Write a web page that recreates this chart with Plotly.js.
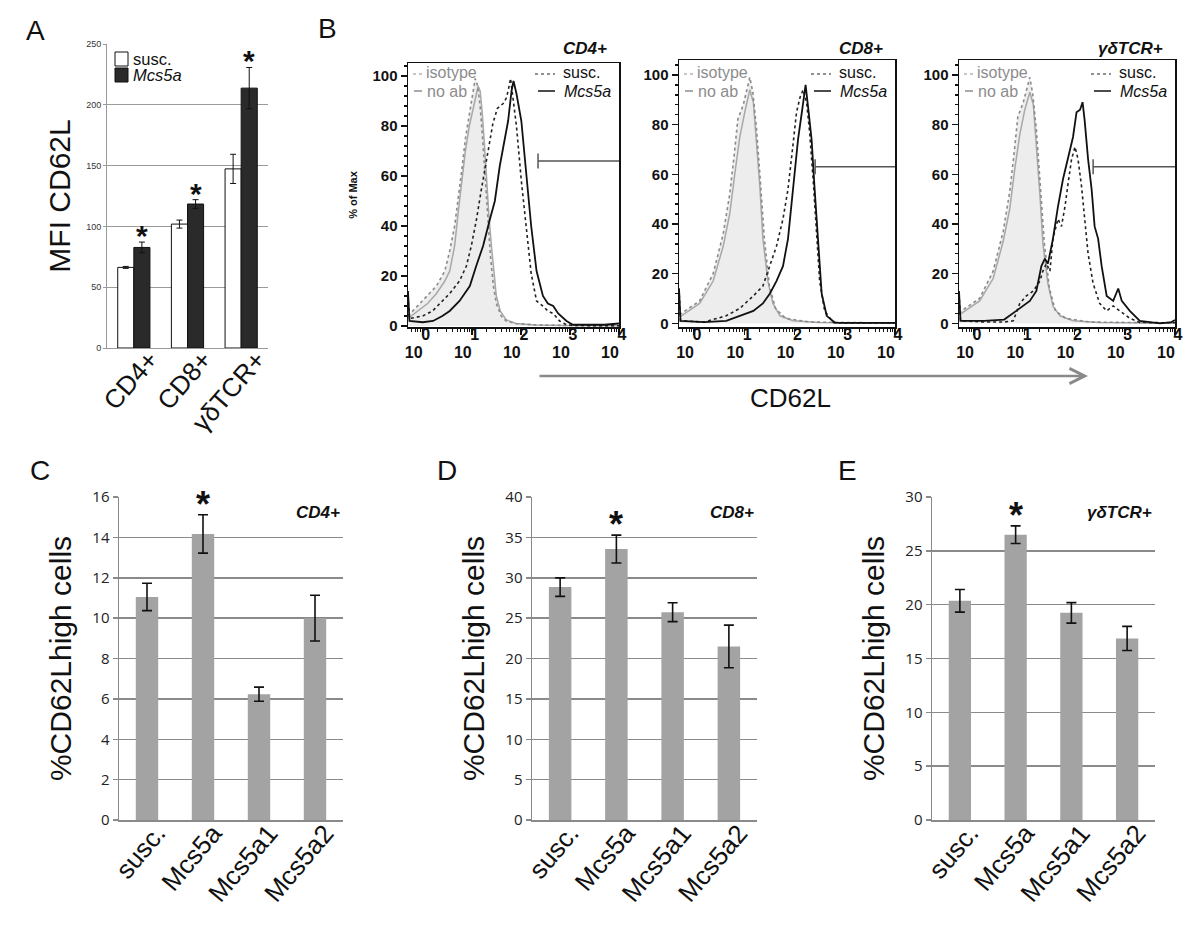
<!DOCTYPE html>
<html><head><meta charset="utf-8">
<script src="https://cdn.plot.ly/plotly-3.0.1.min.js"></script>
<style>html,body{margin:0;padding:0;background:#fff}#chart{width:1200px;height:945px}</style>
</head><body><div id="chart"></div>
<script>
// ===== Panel A: MFI CD62L =====
const mfiCategories = ['CD4+', 'CD8+', 'γδTCR+'];
const mfiSeriesNames = ['susc.', 'Mcs5a'];
const mfiSusc = [66.3, 101.9, 147.3];
const mfiSuscErr = [0.8, 3.3, 12];
const mfiMcs5a = [82.7, 118.4, 213.7];
const mfiMcs5aErr = [4.4, 3.6, 17];

// ===== Panel B: CD62L histograms (x = log10 fluorescence, y = % of max) =====
// CD4+
const cd4NoAbX = [-0.3, -0.1, 0.1, 0.28, 0.45, 0.55, 0.65, 0.72, 0.8, 0.87, 0.95, 1.02, 1.08, 1.13, 1.17, 1.21, 1.26, 1.3, 1.35, 1.4, 1.45, 1.5, 1.58, 1.7, 1.9, 2.3, 3.0, 4.0];
const cd4NoAbY = [3, 6, 9, 13, 18, 22, 32, 45, 58, 70, 80, 86, 92, 96, 94, 86, 72, 58, 44, 32, 21, 12, 6, 2.5, 1, 0.4, 0.2, 0.1];
const cd4IsoX = [-0.3, -0.1, 0.1, 0.28, 0.45, 0.55, 0.65, 0.72, 0.8, 0.87, 0.95, 1.02, 1.07, 1.12, 1.17, 1.22, 1.28, 1.33, 1.38, 1.44, 1.5, 1.6, 1.7, 1.9, 2.3, 3.0, 4.0];
const cd4IsoY = [4, 8, 12, 16, 22, 30, 40, 50, 63, 75, 85, 92, 99, 96, 88, 75, 58, 42, 28, 16, 9, 4, 2, 1, 0.4, 0.2, 0.1];
const cd4SuscX = [-0.3, -0.27, 0, 0.2, 0.35, 0.55, 0.75, 0.89, 0.99, 1.09, 1.19, 1.3, 1.43, 1.52, 1.57, 1.64, 1.7, 1.74, 1.79, 1.84, 1.91, 2.01, 2.11, 2.21, 2.32, 2.45, 2.55, 2.66, 2.79, 2.93, 3.1, 3.5, 4.0];
const cd4SuscY = [12, 3, 4, 6, 9, 13, 18, 24, 32, 42, 54, 66, 81, 87, 88, 89, 91, 94, 99, 90, 80, 58, 38, 21, 10, 8, 6, 5, 2, 0.5, 0.2, 0.1, 0.1];
const cd4McsX = [-0.3, -0.27, 0, 0.21, 0.4, 0.55, 0.75, 0.96, 1.09, 1.23, 1.36, 1.47, 1.57, 1.67, 1.74, 1.81, 1.85, 1.91, 2.01, 2.11, 2.21, 2.32, 2.45, 2.55, 2.66, 2.76, 2.93, 3.06, 3.3, 3.7, 4.0];
const cd4McsY = [14, 2, 1.5, 2, 4, 6, 10, 16, 24, 32, 42, 50, 64, 74, 82, 94, 98, 93, 82, 61, 40, 22, 12, 9, 8, 5, 2, 0.5, 0.5, 0.5, 1];
// CD8+
const cd8NoAbX = [-0.3, -0.25, 0.11, 0.38, 0.58, 0.71, 0.81, 0.91, 1.01, 1.11, 1.18, 1.24, 1.31, 1.37, 1.47, 1.57, 1.71, 1.97, 2.5, 4.0];
const cd8NoAbY = [3, 3, 8, 17, 31, 44, 60, 75, 85, 94, 89, 74, 55, 34, 17, 8, 3, 1, 0.3, 0.1];
const cd8IsoX = [-0.3, -0.25, 0.11, 0.38, 0.58, 0.71, 0.8, 0.87, 0.98, 1.07, 1.11, 1.17, 1.24, 1.31, 1.4, 1.5, 1.62, 1.82, 2.3, 4.0];
const cd8IsoY = [4, 4, 9, 20, 36, 52, 68, 82, 88, 95, 99, 93, 79, 60, 34, 15, 6, 2, 0.5, 0.1];
const cd8SuscX = [-0.3, -0.27, 0.2, 0.64, 0.91, 1.18, 1.37, 1.51, 1.64, 1.77, 1.87, 1.97, 2.04, 2.11, 2.17, 2.24, 2.3, 2.37, 2.44, 2.5, 2.6, 2.77, 3.0, 4.0];
const cd8SuscY = [14, 1, 0.5, 3, 6, 11, 15, 23, 31, 42, 54, 72, 85, 91, 94, 89, 77, 58, 35, 17, 5, 0.3, 0.1, 0.1];
const cd8McsX = [-0.3, -0.27, 0.2, 0.64, 0.91, 1.18, 1.37, 1.51, 1.64, 1.77, 1.87, 1.97, 2.07, 2.16, 2.22, 2.27, 2.34, 2.4, 2.47, 2.54, 2.64, 2.8, 3.0, 4.0];
const cd8McsY = [14, 1, 0.5, 1, 3, 5, 8, 12, 17, 23, 34, 54, 74, 87, 96, 87, 74, 54, 31, 12, 3, 0.3, 0.2, 0.2];
// γδTCR+
const gdNoAbX = [-0.3, -0.25, 0.11, 0.38, 0.58, 0.71, 0.81, 0.91, 1.01, 1.11, 1.18, 1.24, 1.31, 1.37, 1.47, 1.57, 1.71, 1.97, 2.5, 4.0];
const gdNoAbY = [3, 4, 9, 18, 33, 46, 62, 76, 86, 93, 88, 72, 52, 32, 16, 7, 3, 1, 0.3, 0.1];
const gdIsoX = [-0.3, -0.25, 0.11, 0.38, 0.58, 0.71, 0.8, 0.87, 0.98, 1.07, 1.11, 1.17, 1.24, 1.31, 1.4, 1.5, 1.62, 1.82, 2.3, 4.0];
const gdIsoY = [4, 5, 10, 21, 37, 53, 69, 83, 89, 96, 99, 92, 78, 58, 32, 14, 5, 2, 0.5, 0.1];
const gdSuscX = [-0.3, -0.27, 0.2, 0.6, 0.78, 0.91, 1.04, 1.18, 1.31, 1.37, 1.44, 1.51, 1.57, 1.67, 1.74, 1.81, 1.87, 1.94, 2.01, 2.07, 2.14, 2.2, 2.27, 2.37, 2.5, 2.64, 2.77, 2.9, 3.1, 3.3, 4.0];
const gdSuscY = [12, 1, 0.5, 0.5, 1, 8, 11, 13, 17, 21, 24, 21, 34, 42, 39, 47, 56, 66, 71, 66, 55, 42, 28, 16, 8, 5, 7, 5, 2, 0.3, 0.2];
const gdMcsX = [-0.3, -0.27, 0.2, 0.6, 0.84, 0.98, 1.11, 1.24, 1.34, 1.41, 1.47, 1.57, 1.67, 1.77, 1.87, 1.97, 2.04, 2.11, 2.16, 2.2, 2.27, 2.34, 2.4, 2.47, 2.54, 2.64, 2.77, 2.87, 2.94, 3.1, 3.3, 3.7, 3.93, 4.0];
const gdMcsY = [13, 1, 1, 1.5, 5, 7, 9, 13, 23, 26, 24, 34, 47, 58, 67, 75, 85, 86, 89, 82, 66, 54, 39, 34, 23, 11, 9, 14, 9, 5, 1, 0, 0.5, 1.3];
// gate markers (start x in log10 units, level in % of max)
const gateStart = [2.35, 2.41, 2.37];
const gateLevel = [66, 63, 63];
const histTitles = ['CD4+', 'CD8+', 'γδTCR+'];
const histTickVals = [0, 1, 2, 3, 4];
const histTickBase = ['10', '10', '10', '10', '10'];
const histTickExponents = ['0', '1', '2', '3', '4'];

// ===== Panels C-E: %CD62Lhigh cells =====
const strainCategories = ['susc.', 'Mcs5a', 'Mcs5a1', 'Mcs5a2'];
const cd4High = [11.05, 14.17, 6.23, 10.0];
const cd4HighErr = [0.68, 0.95, 0.35, 1.13];
const cd8High = [28.84, 33.55, 25.74, 21.49];
const cd8HighErr = [1.15, 1.73, 1.17, 2.64];
const gdHigh = [20.36, 26.5, 19.24, 16.86];
const gdHighErr = [1.05, 0.82, 0.95, 1.12];

// ---------- helpers ----------
const PX = x => x / 1200;
const PY = y => 1 - y / 945;
const ARIAL = 'Liberation Sans, Arial, sans-serif';
const CALI = 'Open Sans, Lato, sans-serif';

const traces = [];
const annotations = [];
const shapes = [];
const layout = {
  width: 1200, height: 945,
  margin: {l: 0, r: 0, t: 0, b: 0},
  paper_bgcolor: '#fff', plot_bgcolor: 'rgba(0,0,0,0)',
  barmode: 'group', bargap: 0.4, bargroupgap: 0,
  showlegend: false,
  font: {family: ARIAL, color: '#111'}
};

// ---------- Panel A ----------
const mfiColors = ['#ffffff', '#2a2a2a'];
traces.push({type: 'bar', x: mfiCategories, y: mfiSusc, name: mfiSeriesNames[0], xaxis: 'x', yaxis: 'y',
  marker: {color: mfiColors[0], line: {color: '#111', width: 1}},
  error_y: {type: 'data', array: mfiSuscErr, color: '#111', thickness: 1, width: 3}});
traces.push({type: 'bar', x: mfiCategories, y: mfiMcs5a, name: mfiSeriesNames[1], xaxis: 'x', yaxis: 'y',
  marker: {color: mfiColors[1], line: {color: '#111', width: 1}},
  error_y: {type: 'data', array: mfiMcs5aErr, color: '#111', thickness: 1, width: 3}});
layout.xaxis = {domain: [PX(107), PX(268)], anchor: 'y', type: 'category', tickangle: -49,
  tickfont: {size: 26, family: ARIAL, color: '#111'}, ticklabelshift: 16, ticklabelstandoff: -15,
  showline: true, linecolor: '#999', linewidth: 1, showgrid: false, ticks: '', automargin: false};
layout.yaxis = {domain: [PY(348), PY(44)], anchor: 'x', range: [0, 250], dtick: 50,
  showgrid: true, gridcolor: '#9a9a9a', gridwidth: 1, showline: true, linecolor: '#999', linewidth: 1,
  zeroline: false, ticks: 'outside', ticklen: 3, tickcolor: '#999',
  tickfont: {size: 9, family: ARIAL, color: '#333'},
  title: {text: 'MFI CD62L', font: {size: 30, family: ARIAL, color: '#111'}, standoff: 6}, automargin: false};
mfiCategories.forEach((c, i) => {
  annotations.push({xref: 'x', yref: 'y', x: i + 0.15, y: mfiMcs5a[i] + mfiMcs5aErr[i], text: '*',
    showarrow: false, yanchor: 'bottom', yshift: -12, font: {size: 30, family: ARIAL, color: '#111', weight: 'bold'}});
});
// key for panel A (boxes + labels in the plot's upper-left corner)
[[52, 66, 59, 'susc.'], [68, 82, 75, '<i>Mcs5a</i>']].forEach(([y0, y1, yc, label], k) => {
  shapes.push({type: 'rect', xref: 'paper', yref: 'paper', x0: PX(115), x1: PX(128), y0: PY(y1), y1: PY(y0),
    fillcolor: mfiColors[k], line: {color: '#111', width: 1}});
  annotations.push({xref: 'paper', yref: 'paper', x: PX(131), y: PY(yc), xanchor: 'left', yanchor: 'middle',
    showarrow: false, text: label, font: {size: 16.5, family: ARIAL, color: '#111'}});
});

// ---------- Panel B ----------
const minorLog = [];
for (let n = -1; n <= 3; n++) for (let k = 2; k <= 9; k++) { const v = n + Math.log10(k); if (v > -0.3) minorLog.push(v); }

const histSets = [
  {noX: cd4NoAbX, noY: cd4NoAbY, isoX: cd4IsoX, isoY: cd4IsoY, sX: cd4SuscX, sY: cd4SuscY, mX: cd4McsX, mY: cd4McsY},
  {noX: cd8NoAbX, noY: cd8NoAbY, isoX: cd8IsoX, isoY: cd8IsoY, sX: cd8SuscX, sY: cd8SuscY, mX: cd8McsX, mY: cd8McsY},
  {noX: gdNoAbX, noY: gdNoAbY, isoX: gdIsoX, isoY: gdIsoY, sX: gdSuscX, sY: gdSuscY, mX: gdMcsX, mY: gdMcsY}
];
const histGeom = [
  {l: 408, r: 619, t: 63, b: 327, yr: [-0.4, 105.2]},
  {l: 679, r: 895, t: 60, b: 327, yr: [-1.5, 106]},
  {l: 959, r: 1175, t: 60, b: 327, yr: [-1.5, 106]}
];
histSets.forEach((s, i) => {
  const xa = 'x' + (i + 2), ya = 'y' + (i + 2), xe = 'x' + (i + 8);
  const g = histGeom[i];
  const base = {type: 'scatter', mode: 'lines', xaxis: xa, yaxis: ya, showlegend: false, hoverinfo: 'skip'};
  traces.push(Object.assign({}, base, {x: s.isoX, y: s.isoY, fill: 'tozeroy', fillcolor: '#ededed', line: {width: 0}}));
  traces.push(Object.assign({}, base, {x: s.noX, y: s.noY, fill: 'tozeroy', fillcolor: '#ededed', line: {width: 0}}));
  traces.push(Object.assign({}, base, {x: s.noX, y: s.noY, line: {color: '#a8a8a8', width: 1.5}}));
  traces.push(Object.assign({}, base, {x: s.isoX, y: s.isoY, line: {color: '#8a8a8a', width: 1.6, dash: 'dot'}}));
  traces.push(Object.assign({}, base, {x: s.sX, y: s.sY, line: {color: '#222', width: 1.6, dash: 'dot'}}));
  traces.push(Object.assign({}, base, {x: s.mX, y: s.mY, line: {color: '#111', width: 1.8}}));
  // gate marker: end tick
  traces.push(Object.assign({}, base, {
    x: [gateStart[i], gateStart[i]], y: [gateLevel[i] - 3, gateLevel[i] + 3],
    line: {color: '#555', width: 1.5}}));
  layout['xaxis' + (i + 2)] = {domain: [PX(g.l), PX(g.r)], anchor: ya, range: [-0.3, 4],
    tickvals: histTickVals, ticktext: histTickBase, ticks: 'outside', ticklen: 6, tickwidth: 1.5, tickcolor: '#111',
    minor: {tickvals: minorLog, ticks: 'outside', ticklen: 3, tickcolor: '#111', tickwidth: 1},
    showline: true, mirror: true, linecolor: '#111', linewidth: 1.5, showgrid: false, zeroline: false,
    tickfont: {size: 16, family: ARIAL, color: '#111', weight: 'bold'}, ticklabelstandoff: 4, ticklabelshift: -9,
    automargin: false};
  // exponent labels drawn by an overlaying axis with the same scale
  layout['xaxis' + (i + 8)] = {domain: [PX(g.l), PX(g.r)], anchor: ya, overlaying: xa, side: 'bottom', range: [-0.3, 4],
    tickvals: histTickVals, ticktext: histTickExponents, ticks: '', showline: false, showgrid: false, zeroline: false,
    tickfont: {size: 16, family: ARIAL, color: '#111', weight: 'bold'}, ticklabelstandoff: -4, ticklabelshift: 3,
    automargin: false};
  layout['yaxis' + (i + 2)] = {domain: [PY(g.b), PY(g.t)], anchor: xa, range: g.yr, tickvals: [0, 20, 40, 60, 80, 100],
    ticks: 'outside', ticklen: 6, tickwidth: 1.5, tickcolor: '#111',
    minor: {dtick: 4, ticks: 'outside', ticklen: 3, tickcolor: '#111'},
    showline: true, mirror: true, linecolor: '#111', linewidth: 1.5, showgrid: false, zeroline: false,
    tickfont: {size: 15, family: ARIAL, color: '#111', weight: 'bold'}, automargin: false};
  // gate marker: horizontal segment (on the exponent axis, same scale)
  traces.push(Object.assign({}, base, {xaxis: xe, x: [gateStart[i], 4], y: [gateLevel[i], gateLevel[i]],
    line: {color: '#555', width: 1.5}}));
  if (i === 0) layout['yaxis2'].title = {text: '% of Max', font: {size: 11, family: ARIAL, color: '#111', weight: 'bold'}, standoff: 12};
  // title
  annotations.push({xref: 'paper', yref: 'paper', x: PX(g.r - 10), y: PY(48), xanchor: 'right', yanchor: 'middle', showarrow: false,
    text: '<b><i>' + histTitles[i] + '</i></b>', font: {size: 17, family: ARIAL, color: '#111'}});
  // legend texts
  annotations.push({xref: 'paper', yref: 'paper', x: PX(g.l + 16), y: PY(73), xanchor: 'left', yanchor: 'middle', showarrow: false,
    text: 'isotype', font: {size: 16, family: ARIAL, color: '#8c8c8c'}});
  annotations.push({xref: 'paper', yref: 'paper', x: PX(g.l + 17), y: PY(91), xanchor: 'left', yanchor: 'middle', showarrow: false,
    text: 'no ab', font: {size: 16, family: ARIAL, color: '#8c8c8c'}});
  annotations.push({xref: 'paper', yref: 'paper', x: PX(g.r - 58), y: PY(73), xanchor: 'left', yanchor: 'middle', showarrow: false,
    text: 'susc.', font: {size: 16, family: ARIAL, color: '#111'}});
  annotations.push({xref: 'paper', yref: 'paper', x: PX(g.r - 57), y: PY(91), xanchor: 'left', yanchor: 'middle', showarrow: false,
    text: '<i>Mcs5a</i>', font: {size: 16, family: ARIAL, color: '#111'}});
  shapes.push({type: 'line', xref: 'paper', yref: 'paper', x0: PX(g.l + 5), x1: PX(g.l + 17), y0: PY(74), y1: PY(74),
    line: {color: '#8c8c8c', width: 1.2, dash: 'dot'}});
  shapes.push({type: 'line', xref: 'paper', yref: 'paper', x0: PX(g.l + 6), x1: PX(g.l + 14), y0: PY(91), y1: PY(91),
    line: {color: '#8c8c8c', width: 1.5}});
  shapes.push({type: 'line', xref: 'paper', yref: 'paper', x0: PX(g.r - 84), x1: PX(g.r - 64), y0: PY(74), y1: PY(74),
    line: {color: '#222', width: 1.2, dash: 'dot'}});
  shapes.push({type: 'line', xref: 'paper', yref: 'paper', x0: PX(g.r - 81), x1: PX(g.r - 64), y0: PY(91), y1: PY(91),
    line: {color: '#111', width: 1.5}});
});
// CD62L arrow and label
annotations.push({xref: 'paper', yref: 'paper', x: PX(1088), y: PY(376), ax: -550, ay: 0, text: '', showarrow: true,
  arrowhead: 5, arrowsize: 1.2, arrowwidth: 2.5, arrowcolor: '#8a8a8a'});
annotations.push({xref: 'paper', yref: 'paper', x: PX(790), y: PY(398), text: 'CD62L', showarrow: false,
  xanchor: 'center', yanchor: 'middle', font: {size: 26, family: ARIAL, color: '#111'}});

// ---------- Panels C-E ----------
const pctSets = [
  {vals: cd4High, err: cd4HighErr, title: 'CD4+', l: 119, r: 343, range: [0, 16], dtick: 2},
  {vals: cd8High, err: cd8HighErr, title: 'CD8+', l: 532, r: 757, range: [0, 40], dtick: 5},
  {vals: gdHigh, err: gdHighErr, title: 'γδTCR+', l: 932, r: 1155, range: [0, 30], dtick: 5}
];
pctSets.forEach((p, i) => {
  const xa = 'x' + (i + 5), ya = 'y' + (i + 5);
  traces.push({type: 'bar', x: strainCategories, y: p.vals, xaxis: xa, yaxis: ya, width: 0.4, showlegend: false,
    marker: {color: '#a3a3a3', line: {width: 0}},
    error_y: {type: 'data', array: p.err, color: '#111', thickness: 1.6, width: 5}});
  layout['xaxis' + (i + 5)] = {domain: [PX(p.l), PX(p.r)], anchor: ya, type: 'category', tickangle: -50,
    tickfont: {size: 26, family: ARIAL, color: '#111'}, ticklabelshift: 10, ticklabelstandoff: -14,
    showline: true, linecolor: '#8a8a8a', linewidth: 1.5, ticks: '', showgrid: false, automargin: false};
  layout['yaxis' + (i + 5)] = {domain: [PY(820), PY(497)], anchor: xa, range: p.range, dtick: p.dtick,
    showgrid: true, gridcolor: '#8a8a8a', gridwidth: 1.5, showline: true, linecolor: '#8a8a8a', linewidth: 1.5,
    zeroline: false, ticks: 'outside', ticklen: 5, tickcolor: '#8a8a8a', tickwidth: 1.5,
    tickfont: {size: 15, family: CALI, color: '#222'},
    title: {text: '%CD62Lhigh cells', font: {size: 30, family: ARIAL, color: '#111'}, standoff: 12}, automargin: false};
  annotations.push({xref: 'paper', yref: 'paper', x: PX(p.r - 1), y: PY(512), xanchor: 'right', yanchor: 'middle', showarrow: false,
    text: '<b><i>' + p.title + '</i></b>', font: {size: 17, family: ARIAL, color: '#111'}});
  annotations.push({xref: xa, yref: ya, x: 'Mcs5a', y: p.vals[1] + p.err[1], text: '*', showarrow: false,
    yanchor: 'bottom', yshift: -12, font: {size: 36, family: ARIAL, color: '#111', weight: 'bold'}});
});

// panel letters
[['A', 35, 30], ['B', 327, 28], ['C', 40, 470], ['D', 447, 470], ['E', 847, 470]].forEach(([t, x, y]) => {
  annotations.push({xref: 'paper', yref: 'paper', x: PX(x), y: PY(y), text: t, showarrow: false,
    xanchor: 'center', yanchor: 'middle', font: {size: 28, family: ARIAL, color: '#111'}});
});

layout.annotations = annotations;
layout.shapes = shapes;
Plotly.newPlot('chart', traces, layout, {staticPlot: true, displayModeBar: false});
</script></body></html>
